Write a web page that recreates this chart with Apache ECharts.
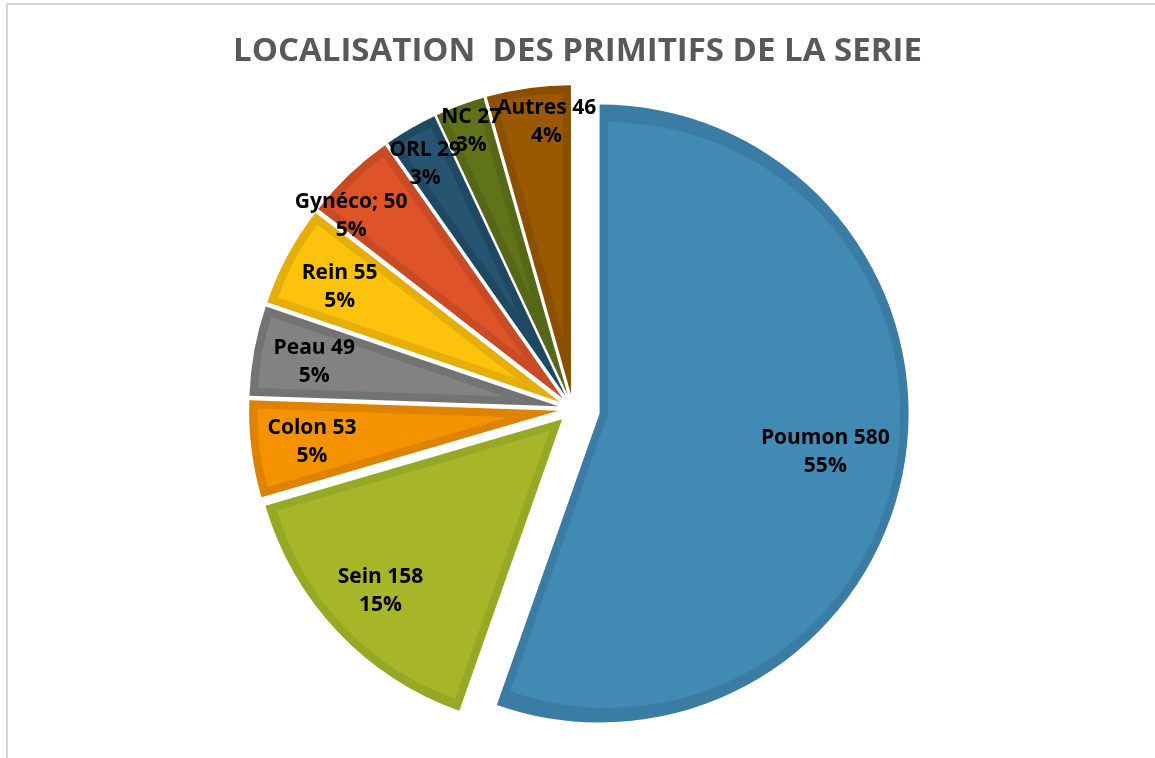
<!DOCTYPE html>
<html>
<head>
<meta charset="utf-8">
<script src="https://cdn.jsdelivr.net/npm/echarts@6/dist/echarts.min.js"></script>
<style>
html, body { margin: 0; padding: 0; background: #fff; }
#chart { width: 1155px; height: 758px; }
#cadre { position: absolute; left: 6px; top: 3px; right: 0; bottom: 0;
         border-top: 2px solid #d9d9d9; border-left: 2px solid #d9d9d9; pointer-events: none; }
</style>
</head>
<body>
<div id="cadre"></div>
<div id="chart"></div>
<script>
// Localisation des primitifs
var categories = ['Poumon', 'Sein', 'Colon', 'Peau', 'Rein', 'Gynéco', 'ORL', 'NC', 'Autres'];
var effectifs = [580, 158, 53, 49, 55, 50, 29, 27, 46];

// couleurs : remplissage et bande du contour
var couleurs = ['#418ab3', '#a6b628', '#f49200', '#828282', '#fdc20b', '#df5328', '#275470', '#617319', '#9a5900'];
var bordures = ['#3a7ca3', '#95a925', '#df8200', '#737373', '#e6ae09', '#c94b25', '#1f4862', '#566718', '#8a5000'];
var eclatement = [27, 15, 15, 15, 15, 15, 15, 15, 15];
var rayonEtiquette = [253, 262, 260, 260, 262, 285, 280, 294, 291];
var decalageEtiquette = [[0, 0], [0, 0], [0, 0], [0, 0], [0, 4], [-23, 15], [-6, 0], [2, 0], [14, 4]];

var centre = [573, 409];
var rayon = 309;
var bande = 8;

var total = effectifs.reduce(function (a, b) { return a + b; }, 0);

function donnees(i, couleur, choisi) {
    return categories.map(function (nom, j) {
        var item = { name: nom, value: effectifs[j] };
        if (j === i) {
            item.itemStyle = { color: couleur };
            if (choisi) item.selected = true;
        } else {
            item.itemStyle = { color: 'rgba(0,0,0,0)' };
            item.label = { show: false };
        }
        return item;
    });
}

var series = [];
categories.forEach(function (nom, i) {
    var demiAngle = Math.PI * effectifs[i] / total;
    var retrait = bande / Math.sin(demiAngle);
    // part sombre (contour)
    series.push({
        type: 'pie', silent: true, center: centre, radius: rayon,
        selectedMode: 'multiple', selectedOffset: eclatement[i],
        itemStyle: { borderWidth: 0 }, label: { show: false }, labelLine: { show: false },
        data: donnees(i, bordures[i], true)
    });
    // part claire (intérieur)
    series.push({
        type: 'pie', silent: true, center: centre, radius: rayon - bande - retrait,
        selectedMode: 'multiple', selectedOffset: eclatement[i] + retrait,
        itemStyle: { borderWidth: 0 }, label: { show: false }, labelLine: { show: false },
        data: donnees(i, couleurs[i], true)
    });
});

// etiquettes
categories.forEach(function (nom, i) {
    series.push({
        type: 'pie', silent: true, center: centre, radius: rayonEtiquette[i] * 2, z: 5,
        percentPrecision: 0, avoidLabelOverlap: false,
        labelLayout: { hideOverlap: false },
        itemStyle: { borderWidth: 0 }, labelLine: { show: false },
        label: {
            show: true, position: 'inside', offset: decalageEtiquette[i], overflow: 'none',
            color: '#000', fontFamily: 'Open Sans', fontWeight: 'bold', fontSize: 21, lineHeight: 28,
            formatter: function (p) {
                var sep = p.name === 'Gynéco' ? '; ' : ' ';
                return p.name + sep + p.value + '\n' + p.percent + '%';
            }
        },
        data: donnees(i, 'rgba(0,0,0,0)', false)
    });
});

var chart = echarts.init(document.getElementById('chart'));
chart.setOption({
    animation: false,
    title: {
        text: 'LOCALISATION  DES PRIMITIFS DE LA SERIE',
        left: 'center', top: 30,
        textStyle: { fontFamily: 'Open Sans', fontWeight: 'bold', fontSize: 33, color: '#595959' }
    },
    series: series
});
</script>
</body>
</html>
